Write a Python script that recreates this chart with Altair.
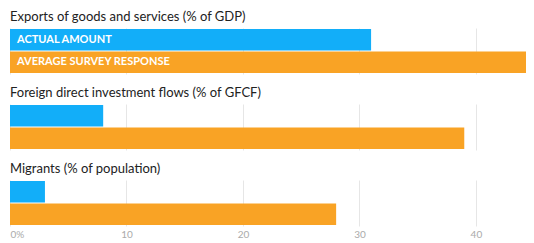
import altair as alt
import pandas as pd

metrics = [
    "Exports of goods and services (% of GDP)",
    "Foreign direct investment flows (% of GFCF)",
    "Migrants (% of population)",
]
series = ["ACTUAL AMOUNT", "AVERAGE SURVEY RESPONSE"]
actual = [31, 8, 3]
survey = [46, 39, 28]
tick_values = [0, 10, 20, 30, 40]

rows = []
for i, m in enumerate(metrics):
    rows.append({"metric": m, "series": series[0], "value": actual[i], "label": series[0] if i == 0 else ""})
    rows.append({"metric": m, "series": series[1], "value": survey[i], "label": series[1] if i == 0 else ""})
df = pd.DataFrame(rows)

FONT = "Lato"
BLUE = "#12AEF9"
ORANGE = "#F9A325"

xscale = alt.Scale(domain=[0, 44.3], nice=False, zero=True)
yscale = alt.Scale(domain=series, paddingInner=0.05, paddingOuter=0.05)
color = alt.Color("series:N", scale=alt.Scale(domain=series, range=[BLUE, ORANGE]), legend=None)


def panel(i, last):
    if last:
        axis = alt.Axis(values=tick_values, grid=True, ticks=False, domain=False,
                        labelExpr="datum.value == 0 ? '0%' : datum.label",
                        labelFlush=True, labelColor="#aaaaaa", labelFontSize=10,
                        labelFont=FONT, labelPadding=3, title=None,
                        gridColor="#e6e6e6")
    else:
        axis = alt.Axis(values=tick_values, grid=True, ticks=False, domain=False,
                        labels=False, title=None, gridColor="#e6e6e6")
    base = alt.Chart(df).transform_filter(alt.datum.metric == metrics[i])
    bars = base.mark_bar(clip=True).encode(
        x=alt.X("value:Q", scale=xscale, axis=axis),
        y=alt.Y("series:N", scale=yscale, axis=None, sort=series),
        color=color,
    )
    text = base.mark_text(align="left", baseline="middle", dx=7, color="white",
                          fontWeight="bold", fontSize=11, font=FONT).encode(
        x=alt.value(0),
        y=alt.Y("series:N", scale=yscale, axis=None, sort=series),
        text="label:N",
    )
    return (bars + text).properties(
        width=516, height=46,
        title=alt.TitleParams(metrics[i], anchor="start", font=FONT, fontSize=13,
                              fontWeight="normal", color="#222222", offset=4),
    )


chart = alt.vconcat(panel(0, False), panel(1, False), panel(2, True), spacing=13).properties(
    padding={"left": 2, "top": 3, "right": 0, "bottom": 0}
).configure_view(stroke=None).configure_concat(spacing=13)

chart.save("out.html", embed_options={"renderer": "svg", "actions": False})
